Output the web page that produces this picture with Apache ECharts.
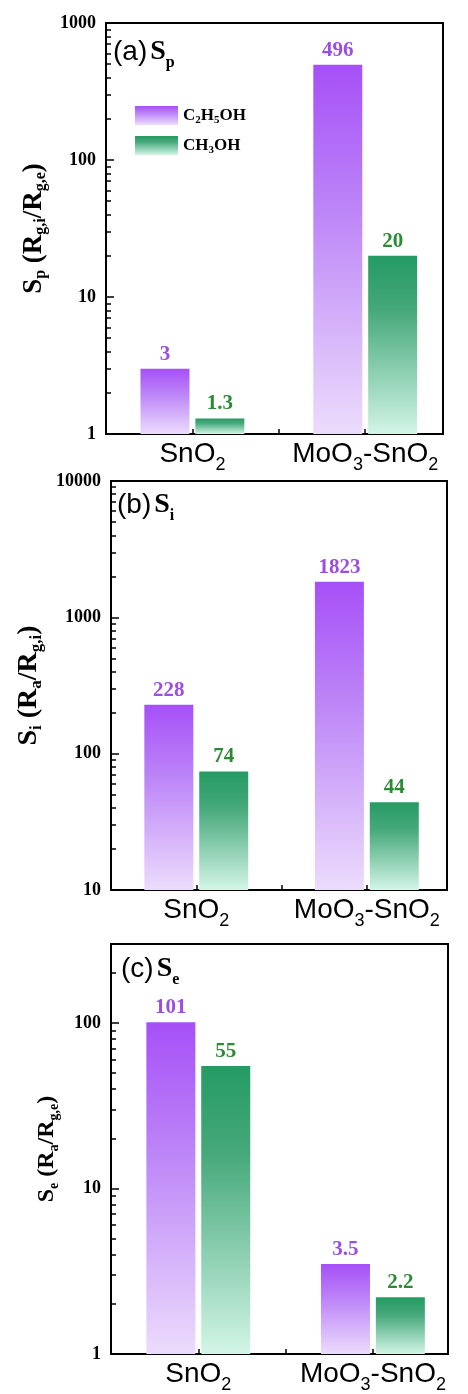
<!DOCTYPE html>
<html><head><meta charset="utf-8">
<script src="https://cdn.jsdelivr.net/npm/echarts@6/dist/echarts.min.js"></script>
<style>html,body{margin:0;padding:0;background:#fff}#c{width:468px;height:1394px}</style>
</head><body><div id="c"></div>
<script>
// ---- data ----
const categories = ['SnO2', 'MoO3-SnO2'];
const categoryPositions = [1, 2];
const seriesNames = ['C2H5OH', 'CH3OH'];
const spEthanol = [3, 496];
const spMethanol = [1.3, 20];
const siEthanol = [228, 1823];
const siMethanol = [74, 44];
const seEthanol = [101, 3.5];
const seMethanol = [55, 2.2];
const panelTags = ['(a)', '(b)', '(c)'];
const panelSymbols = [['S', 'p'], ['S', 'i'], ['S', 'e']];
const yNames = [
  'S{sub|p} (R{sub|g,i}/R{sub|g,e})',
  'S{sub|i} (R{sub|a}/R{sub|g,i})',
  'S{sub|e} (R{sub|a}/R{sub|g,e})'
];
const yMins = [1, 10, 1];
const yMaxs = [1000, 10000, 300];

// ---- layout ----
const grids = [
  { left: 106, top: 23, width: 337, height: 411 },
  { left: 111, top: 481, width: 336, height: 409 },
  { left: 111, top: 944, width: 337, height: 411 }
];
const xMaxs = [2.45, 2.47, 2.43];
const nameGaps = [58, 64, 52];
const nameSizes = [27, 28, 24];
const titlePos = [[113, 37], [117, 490], [121, 954]];

const serif = 'Liberation Serif';
const sans = 'Liberation Sans';
const purpleLabel = '#9a4fe3';
const greenLabel = '#2c8a35';

function toRich(s) { return s.replace(/(\d+)/g, '{s|$1}'); }
function purpleGrad() {
  return new echarts.graphic.LinearGradient(0, 0, 0, 1, [
    { offset: 0, color: '#a650f7' }, { offset: 0.4, color: '#bd86f7' }, { offset: 1, color: '#ecdcfc' }]);
}
function greenGrad() {
  return new echarts.graphic.LinearGradient(0, 0, 0, 1, [
    { offset: 0, color: '#259b63' }, { offset: 0.3, color: '#45a87a' }, { offset: 1, color: '#d3f5e7' }]);
}
function minorValues(min, max) {
  const out = [];
  for (let d = min; d < max; d *= 10) {
    for (let k = 2; k <= 9; k++) { const v = d * k; if (v < max) out.push(v); }
  }
  return out;
}
function isPow10(v) { const l = Math.log10(v); return Math.abs(l - Math.round(l)) < 1e-6; }

const panelData = [[spEthanol, spMethanol], [siEthanol, siMethanol], [seEthanol, seMethanol]];

const xAxis = [], yAxis = [], series = [], title = [];
grids.forEach((g, i) => {
  xAxis.push({
    type: 'value', gridIndex: i, min: 0.5, max: xMaxs[i], interval: 0.5,
    splitLine: { show: false },
    axisLine: { lineStyle: { color: '#000', width: 2 } },
    axisTick: { inside: true, length: 5, lineStyle: { color: '#000', width: 1.5 } },
    axisLabel: {
      margin: 6, color: '#000', fontFamily: sans, fontSize: 28,
      formatter: v => { const k = categoryPositions.indexOf(v); return k >= 0 ? toRich(categories[k]) : ''; },
      rich: { s: { fontFamily: sans, fontSize: 18, verticalAlign: 'bottom', padding: [0, 0, -6, 0] } }
    }
  });
  const ns = nameSizes[i];
  yAxis.push({
    type: 'log', logBase: 10, gridIndex: i, min: yMins[i], max: yMaxs[i], position: 'left',
    splitLine: { show: false },
    axisLine: { lineStyle: { color: '#000', width: 2 } },
    axisTick: { inside: true, length: 8, lineStyle: { color: '#000', width: 1.5 } },
    axisLabel: {
      margin: 10, color: '#000', fontFamily: serif, fontWeight: 'bold', fontSize: 18,
      formatter: v => isPow10(v) ? String(Math.round(v)) : ''
    },
    name: yNames[i], nameLocation: 'middle', nameGap: nameGaps[i], nameRotate: 90,
    nameTextStyle: {
      fontFamily: serif, fontWeight: 'bold', fontSize: ns, color: '#000', lineHeight: ns,
      rich: { sub: { fontFamily: serif, fontWeight: 'bold', fontSize: Math.round(ns * 0.6), verticalAlign: 'bottom', lineHeight: Math.round(ns * 0.6), padding: [0, 0, -2, 0] } }
    }
  });
  // minor log ticks (2..9 per decade) on the left axis
  yAxis.push({
    type: 'log', logBase: 10, gridIndex: i, min: yMins[i], max: yMaxs[i],
    position: 'left', offset: 0,
    splitLine: { show: false }, axisLine: { show: false }, axisLabel: { show: false },
    axisTick: { inside: true, length: 5, customValues: minorValues(yMins[i], yMaxs[i]), lineStyle: { color: '#000', width: 1.5 } }
  });
  const [eth, meth] = panelData[i];
  const mk = (name, vals, color, lc) => ({
    type: 'bar', name, xAxisIndex: i, yAxisIndex: i * 2,
    barWidth: 49, barGap: '12%',
    data: vals.map((v, k) => [categoryPositions[k], v]),
    itemStyle: { color },
    label: {
      show: true, position: 'top', distance: 4, color: lc,
      fontFamily: serif, fontWeight: 'bold', fontSize: 21,
      formatter: p => String(p.value[1])
    }
  });
  series.push(mk(seriesNames[0], eth, purpleGrad(), purpleLabel));
  series.push(mk(seriesNames[1], meth, greenGrad(), greenLabel));
  title.push({
    text: panelTags[i] + '{s|' + panelSymbols[i][0] + '}{sub|' + panelSymbols[i][1] + '}',
    left: titlePos[i][0], top: titlePos[i][1], padding: 0,
    textStyle: {
      fontFamily: sans, fontWeight: 'normal', fontSize: 28, color: '#000', lineHeight: 30,
      rich: {
        s: { fontFamily: serif, fontWeight: 'bold', fontSize: 28, padding: [0, 0, 0, 3], lineHeight: 30 },
        sub: { fontFamily: serif, fontWeight: 'bold', fontSize: 16, verticalAlign: 'bottom', lineHeight: 16, padding: [0, 0, -4, 0] }
      }
    }
  });
});

const chart = echarts.init(document.getElementById('c'));
chart.setOption({
  animation: false,
  backgroundColor: '#fff',
  title,
  legend: {
    data: seriesNames, orient: 'vertical', left: 130, top: 101,
    itemWidth: 43, itemHeight: 19, itemGap: 10, icon: 'rect',
    formatter: n => toRich(n),
    textStyle: {
      fontFamily: serif, fontWeight: 'bold', fontSize: 17, color: '#000', lineHeight: 17,
      rich: { s: { fontFamily: serif, fontWeight: 'bold', fontSize: 11, verticalAlign: 'bottom', lineHeight: 11, padding: [0, 0, -2, 0] } }
    }
  },
  grid: grids.map(g => Object.assign({ show: true, borderColor: '#000', borderWidth: 2, backgroundColor: 'transparent', containLabel: false }, g)),
  xAxis, yAxis, series
});
</script></body></html>
